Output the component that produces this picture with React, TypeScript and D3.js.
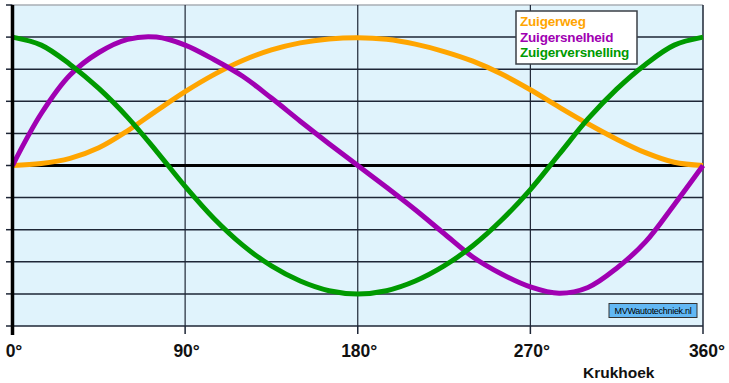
import React from "react";
import * as d3 from "d3";

const angles = [0, 15, 30, 45, 60, 75, 90, 105, 120, 135, 150, 165, 180, 195, 210, 225, 240, 255, 270, 285, 300, 315, 330, 345, 360];
const zuigerweg = [0, 0.06, 0.22, 0.55, 1.08, 1.7, 2.3, 2.83, 3.27, 3.6, 3.82, 3.94, 3.98, 3.93, 3.78, 3.55, 3.25, 2.85, 2.36, 1.82, 1.3, 0.82, 0.4, 0.1, 0];
const zuigersnelheid = [0, 1.62, 2.82, 3.52, 3.93, 4.0, 3.75, 3.3, 2.78, 2.1, 1.38, 0.68, 0, -0.68, -1.38, -2.12, -2.85, -3.38, -3.78, -3.98, -3.8, -3.2, -2.38, -1.22, 0];
const zuigerversnelling = [4, 3.75, 3.15, 2.4, 1.5, 0.45, -0.65, -1.65, -2.48, -3.13, -3.6, -3.9, -4, -3.9, -3.6, -3.13, -2.5, -1.7, -0.75, 0.35, 1.45, 2.38, 3.15, 3.75, 4];
const xTicks = [0, 90, 180, 270, 360];
const xTickLabels = ["0°", "90°", "180°", "270°", "360°"];
const yGrid = [-5, -4, -3, -2, -1, 0, 1, 2, 3, 4, 5];
const seriesNames = ["Zuigerweg", "Zuigersnelheid", "Zuigerversnelling"];
const seriesColors = ["#FFA500", "#A000B2", "#009A00"];

export default function App() {
  const W = 729, H = 383;
  const x = d3.scaleLinear().domain([0, 360]).range([12.5, 703]);
  const y = d3.scaleLinear().domain([-5, 5]).range([326, 5]);
  const series = [zuigerweg, zuigersnelheid, zuigerversnelling];
  const line = (vals: number[]) =>
    d3.line<number>().x((_, i) => x(angles[i])).y((v) => y(v)).curve(d3.curveCatmullRom.alpha(0.5))(vals) || "";
  const font = "'Liberation Sans', Arial, sans-serif";
  return (
    <svg width={W} height={H} style={{ position: "absolute", left: 0, top: 0, background: "#fff" }} fontFamily={font}>
      <rect x={x(0)} y={y(5)} width={x(360) - x(0)} height={y(-5) - y(5)} fill="#E0F3FC" />
      {yGrid.filter((g) => g !== 0 && g !== 5).map((g) => (
        <line key={g} x1={x(0)} x2={x(360)} y1={y(g)} y2={y(g)} stroke="#1E2636" strokeWidth={1.5} />
      ))}
      <line x1={x(0)} x2={x(360)} y1={y(5)} y2={y(5)} stroke="#A9AEB4" strokeWidth={1.5} />
      {xTicks.slice(1, 4).map((t) => (
        <line key={t} x1={x(t)} x2={x(t)} y1={y(5)} y2={y(-5)} stroke="#1E2636" strokeWidth={1.2} />
      ))}
      <line x1={x(360)} x2={x(360)} y1={y(5)} y2={y(-5)} stroke="#1E2636" strokeWidth={1.5} />
      {xTicks.map((t) => (
        <line key={"t" + t} x1={x(t)} x2={x(t)} y1={y(-5)} y2={y(-5) + 8} stroke="#1E2636" strokeWidth={1.5} />
      ))}
      {yGrid.map((g) => (
        <line key={"yt" + g} x1={6} x2={x(0)} y1={y(g)} y2={y(g)} stroke="#1E2636" strokeWidth={1.5} />
      ))}
      <line x1={x(0)} x2={x(360)} y1={y(0)} y2={y(0)} stroke="#000" strokeWidth={3} />
      {series.map((s, i) => (
        <path key={i} d={line(s)} fill="none" stroke={seriesColors[i]} strokeWidth={5} strokeLinecap="butt" />
      ))}
      <line x1={x(0)} x2={x(0)} y1={y(5)} y2={y(-5) + 9} stroke="#000" strokeWidth={3.5} />
      {xTicks.map((t, i) => (
        <text key={"l" + t} x={x(t) + (i === 4 ? 4 : 1.5)} y={357} textAnchor="middle" fontWeight="bold" fontSize={17.5} fill="#111">
          {xTickLabels[i]}
        </text>
      ))}
      <text x={583} y={378} fontWeight="bold" fontSize={15.5} fill="#111">Krukhoek</text>
      <rect x={516} y={11} width={121} height={53} fill="#fff" stroke="#3A3F46" strokeWidth={1.5} />
      {seriesNames.map((n, i) => (
        <text key={n} x={520} y={26 + i * 15.7} fontWeight="bold" fontSize={13.5} fill={seriesColors[i]} letterSpacing={-0.2}>
          {n}
        </text>
      ))}
      <rect x={609} y={303.5} width={88} height={14} fill="#62B8F4" stroke="#333" strokeWidth={1} />
      <text x={653} y={314} textAnchor="middle" fontSize={9} fill="#000" letterSpacing={-0.3}>MVWautotechniek.nl</text>
    </svg>
  );
}
